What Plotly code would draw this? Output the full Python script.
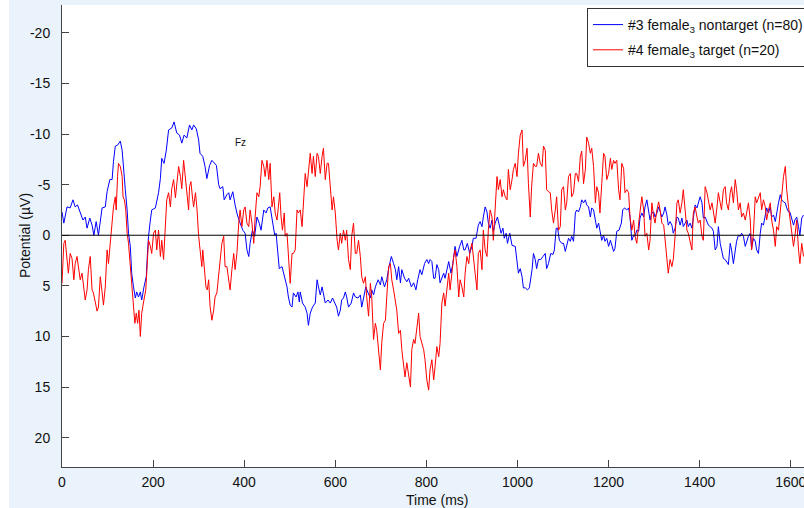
import plotly.graph_objects as go

# ---- data (time in ms, potential in µV) ----
blue_time = [0,4,11,18,24,29,34,40,46,51,55,61,66,70,75,80,84,88,95,99,105,110,113,117,122,128,132,135,139,143,146,150,153,157,161,164,168,172,175,180,185,188,190,194,197,205,212,216,219,224,229,234,241,246,252,258,263,268,274,280,285,289,295,300,303,309,314,318,324,329,334,339,344,347,353,356,362,366,369,375,380,385,391,397,402,406,410,
             413,418,423,428,433,437,443,448,452,457,461,467,470,474,477,483,489,494,497,501,505,508,514,518,521,523,528,534,538,541,545,550,556,560,563,567,571,574,578,584,589,594,598,603,607,611,614,618,622,625,629,635,640,644,650,655,658,662,667,672,677,680,684,688,694,699,702,708,713,718,723,728,732,735,739,743,746,752,757,761,767,772,777,781,786,790,796,801,805,
             808,812,816,819,823,827,830,834,838,841,845,849,854,858,863,867,873,878,882,885,890,895,900,903,909,914,918,922,925,929,933,936,940,944,947,951,956,961,964,968,971,975,978,983,988,995,999,1002,1006,1010,1013,1017,1022,1026,1032,1035,1039,1042,1046,1051,1056,1061,1064,1068,1073,1078,1081,1085,1088,1092,1097,1101,1105,1108,1112,1116,1119,1123,1127,1130,1134,1138,1141,1145,1149,1152,1156,1160,1163,1167,1171,1174,1178,1182,1185,1189,1192,1196,1200,1204,1207,1211,
             1214,1218,1223,1228,1231,1235,1240,1244,1247,1251,1255,1258,1262,1266,1269,1273,1277,1280,1284,1288,1291,1295,1299,1302,1306,1310,1313,1317,1321,1324,1328,1331,1335,1339,1342,1346,1350,1353,1357,1361,1364,1368,1372,1375,1379,1383,1386,1390,1394,1397,1401,1405,1408,1412,1416,1419,1423,1427,1430,1434,1438,1441,1445,1449,1452,1456,1459,1463,1467,1470,1474,1478,1481,1485,1489,1492,1496,1500,1503,1507,1511,1514,1518,1522,1525,1529,1533,1536,1540,1544,1547,1551,1555,1558,1562,1566,1569,1573,1577,1580,1584,1588,1591,1595,1598,1602,1606,1609,1613,1617,1620,1624,1628]
blue_uv = [-2.3,-1.2,-2.8,-2.7,-3.5,-2.8,-3.0,-2.2,-1.5,-1.8,-0.7,-1.7,-1.0,0,-1.35,0,-1.5,-2.7,-2.8,-4.3,-5.5,-5.5,-7.3,-8.8,-8.9,-9.3,-8.4,-6.5,-4.5,-2.5,-0.2,1.1,3.75,5.1,6.2,5.6,6.1,5.6,6.4,5.1,4.1,1.45,0.1,-1.5,-2.5,-2.7,-4.2,-5.6,-7.6,-7.1,-8.4,-10.4,-10.6,-11.2,-10.1,-9.9,-9.1,-9.9,-9.6,-10.9,-10.4,-10.9,-10.5,-9.4,-8.1,-7.8,-6.8,-5.6,-6.9,-7.4,-7.1,-6.9,-5.0,-4.6,-4.8,-3.5,-4.0,-4.2,-3.5,-4.3,-3.0,-2.0,-1.2,-0.5,-0.2,1.45,2.1,
           0.8,-0.5,0.1,-1.8,-1.2,-0.5,-2.5,-2.2,-2.7,-2.8,-1.5,0,-0.2,1.8,3.3,3.1,4.25,5.1,6.1,6.9,7.1,5.7,6.1,5.6,6.6,5.6,6.7,7.1,7.7,8.9,7.7,7.1,6.7,4.4,5.1,5.9,5.1,5.7,6.7,6.4,6.7,6.2,6.6,7.1,8.0,7.4,6.4,6.2,5.6,6.1,7.1,6.7,5.7,6.1,6.2,5.9,7.1,6.2,5.1,5.7,6.2,5.4,5.9,5.1,4.4,4.9,4.1,5.1,4.4,3.1,2.1,2.8,3.4,4.4,3.1,4.7,3.4,4.25,4.6,4.25,5.1,4.7,5.4,4.4,3.4,3.9,2.8,2.4,2.8,
           2.4,2.6,4.25,4.25,2.9,3.4,4.7,4.1,3.75,4.25,3.4,2.6,3.75,2.8,1.1,2.1,1.1,0.5,1.45,1.45,0.8,1.8,1.1,0.3,0.3,-1.0,-1.35,-0.85,-1.8,-2.8,-2.3,-1.2,-0.7,-1.5,-0.4,-1.2,-1.8,-0.7,-0.2,-0.7,0.3,-0.2,0.8,-0.2,1.0,1.1,2.4,3.75,3.3,4.1,5.2,5.2,5.4,5.2,3.4,1.8,2.4,3.3,2.4,2.4,2.1,1.8,3.3,2.8,1.8,1.9,1.45,-0.7,-0.7,0.5,0.8,0.8,1.6,1.1,0.3,0.6,0.1,0.6,-2.2,-2.5,-2.3,-2.8,-3.5,-3.2,-3.5,-3.0,-2.8,-1.8,-2.7,-2.5,-1.5,-0.7,-1.2,-0.2,0.5,0,0.6,0.3,1.1,0.5,1.0,1.6,
           1.3,-0.4,-0.5,-1.2,-2.5,-2.7,-2.5,-2.7,-1.8,0.5,0,0.1,-0.5,-0.4,-1.7,-2.2,-1.8,-2.8,-3.5,-2.5,-1.5,-2.2,-2.3,-1.8,-2.2,-2.8,-2.3,-1.8,-2.2,-2.8,-2.0,-1.0,-1.35,-1.0,-0.2,-0.7,-1.8,-1.7,-1.0,-1.7,-0.85,-1.2,-1.5,-0.85,-1.2,-0.7,-1.8,-3.0,-2.7,-3.2,-3.8,-3.2,-1.7,-1.8,-1.35,-1.0,-0.85,-0.7,-0.4,1.45,1.1,-0.85,0.8,1.6,2.3,2.4,2.6,2.9,0.8,1.45,2.8,1.45,0.6,0,0.1,-0.2,0.1,1.1,0.6,0.1,-0.2,1.3,0.3,0.6,1.45,1.8,-0.2,-1.2,-1.0,-1.8,-2.7,-2.2,-2.8,-1.8,-2.0,-1.35,-2.3,-3.2,-4.0,-3.5,-3.3,-3.2,-2.7,-2.3,-2.3,-1.5,-1.0,-1.5,-1.8,-0.85,0,-1.7,-2.0]

red_time = [0,4,7,11,14,18,22,26,29,33,36,40,44,47,51,55,58,62,66,69,73,77,80,84,88,91,95,99,102,106,110,113,117,119,122,124,128,132,134,137,140,143,146,150,153,157,160,163,166,169,172,175,178,181,184,187,190,194,197,201,205,208,212,216,219,223,227,230,234,238,241,245,249,252,256,260,263,267,271,274,278,280,283,287,289,293,296,300,304,307,309,312,316,319,322,325,329,333,336,340,344,347,351,355,358,362,366,369,373,377,380,384,388,391,395,399,
            402,406,410,413,417,421,424,428,432,435,439,443,446,450,454,457,461,465,468,472,475,478,481,484,488,490,494,497,501,505,508,512,516,519,523,527,530,534,538,541,545,549,552,556,560,563,567,571,574,578,582,585,589,593,596,600,604,607,611,614,618,622,625,629,633,636,640,644,647,651,655,658,662,666,669,673,677,680,684,688,691,695,699,702,706,710,713,717,721,724,728,732,735,739,743,746,750,753,757,761,765,768,772,775,779,783,786,790,794,797,801,805,
            808,812,816,819,823,827,830,834,838,841,845,849,852,856,860,863,867,871,874,878,882,885,889,893,896,900,903,907,911,914,918,922,925,929,933,936,940,944,947,951,955,958,962,966,969,973,977,980,984,988,991,995,999,1002,1006,1010,1013,1017,1021,1024,1028,1031,1035,1039,1042,1046,1050,1054,1057,1061,1064,1068,1072,1075,1079,1083,1086,1090,1094,1097,1101,1105,1108,1112,1116,1119,1123,1127,1130,1134,1138,1141,1145,1149,1152,1156,1160,1163,1167,1171,1174,1178,1181,1185,1189,1192,1196,1200,1204,1207,1211,
            1214,1218,1222,1225,1229,1233,1236,1240,1244,1247,1251,1255,1258,1262,1266,1269,1273,1277,1280,1284,1288,1291,1295,1299,1302,1306,1310,1313,1317,1321,1324,1328,1331,1335,1339,1342,1346,1350,1353,1357,1361,1364,1368,1372,1375,1379,1383,1386,1390,1394,1397,1401,1405,1408,1412,1416,1419,1423,1427,1430,1434,1438,1441,1445,1448,1452,1456,1459,1463,1467,1470,1474,1478,1481,1485,1489,1492,1496,1500,1503,1507,1511,1514,1518,1522,1525,1529,1533,1536,1540,1544,1547,1551,1555,1558,1562,1566,1569,1573,1577,1580,1584,1588,1591,1595,1598,1602,1606,1609,1613,1617,1620,1624,1628]
red_uv = [4.75,0.8,0.5,2.8,3.75,1.8,2.3,4.4,2.8,2.1,3.3,4.4,3.75,4.9,6.4,5.4,3.4,2.1,5.4,5.7,6.7,7.5,7.1,4.1,5.6,6.9,5.1,1.45,2.8,0.8,-1.8,-2.8,-3.8,-2.5,-5.8,-7.1,-6.8,-5.8,-3.8,-3.5,-2.5,-0.2,0.8,3.1,5.1,7.0,8.7,7.7,8.7,7.4,10.0,7.7,6.7,6.1,5.4,2.4,0.5,1.1,1.8,-0.2,-0.5,1.45,-0.5,2.1,0.5,2.4,-0.7,-3.5,-4.2,-2.8,-4.6,-5.5,-3.7,-5.1,-6.8,-5.8,-4.6,-7.4,-5.8,-4.2,-2.5,-4.8,-5.3,-3.5,-2.8,-4.2,-2.8,0.1,2.1,3.1,1.45,3.1,5.1,5.4,4.4,7.0,8.4,7.4,6.1,5.7,4.1,2.8,0.8,0.1,3.1,3.1,4.75,5.4,3.4,1.8,3.4,1.8,-1.2,-2.5,-0.85,-2.5,
          -2.8,-1.2,-0.85,-2.5,-1.2,0.8,-1.8,-4.2,-3.8,-4.8,-7.4,-6.8,-5.8,-7.4,-5.5,-7.1,-2.8,-3.8,-2.2,-1.5,-2.8,-4.2,-1.8,-0.5,-2.2,0.1,-0.2,1.8,4.75,1.8,1.8,1.45,-2.5,-2.2,-2.5,-0.85,-3.5,-6.1,-4.8,-6.1,-8.1,-6.1,-7.8,-5.8,-8.1,-7.8,-6.1,-7.8,-8.6,-5.5,-7.1,-7.1,-4.5,-2.5,-3.8,-2.2,0.5,1.45,-0.2,0.8,-0.5,0.5,-0.5,2.4,3.4,0.1,-1.2,1.8,1.8,0.5,2.1,4.1,4.75,4.1,6.1,8.0,4.75,6.1,10.3,8.7,9.4,11.3,13.3,10.6,8.7,8.4,6.4,3.1,2.8,4.4,5.4,6.4,7.4,9.7,9.4,11.3,13.3,14.0,12.6,14.0,15.0,11.3,10.3,10.7,9.0,7.7,10.0,10.7,11.3,12.3,14.3,15.3,
          13.3,12.3,14.3,13.0,11.0,12.0,10.7,6.7,5.7,7.0,5.6,3.75,5.4,3.4,2.1,1.45,3.1,6.1,4.4,5.1,6.1,3.75,2.1,2.8,1.45,0.8,2.4,3.75,5.4,1.8,1.45,3.4,-0.5,1.45,2.1,-0.5,-2.5,-1.8,0.5,-2.8,-5.8,-4.5,-5.5,-3.8,-4.5,-3.8,-3.5,-6.5,-4.5,-5.5,-6.5,-7.1,-5.8,-8.1,-9.9,-10.4,-6.8,-7.4,-8.6,-5.1,-1.8,-4.8,-7.1,-6.8,-6.8,-8.1,-7.1,-6.8,-8.8,-8.4,-4.5,-4.3,-4.2,-2.5,-1.2,-2.5,-3.8,-0.5,-0.85,-4.5,-4.8,-2.5,-3.2,-5.8,-6.1,-3.8,-4.2,-6.1,-6.1,-5.3,-7.8,-8.3,-5.1,-6.5,-9.7,-9.1,-8.1,-8.6,-6.8,-3.2,-4.8,-4.2,-2.2,-5.1,-8.1,-7.8,-5.5,-6.1,-7.6,-6.5,-7.4,
          -7.1,-7.4,-4.5,-3.5,-7.1,-6.6,-4.2,-4.5,-4.2,-1.8,-0.5,-1.5,0.1,0.8,-1.2,-2.2,-3.8,-2.5,0.1,-0.2,1.45,0.5,-3.2,-1.8,-1.2,-2.5,-3.3,-2.5,-1.2,-1.0,0.5,2.8,3.75,2.4,3.1,2.4,0.1,-3.2,-3.5,-2.2,-3.2,-4.5,-2.5,-0.5,-0.2,0.8,1.45,-2.2,-2.8,-1.8,-1.2,-1.5,0.1,0.5,-4.8,-4.2,-3.5,-2.5,-3.2,-2.5,-1.2,-2.8,-4.2,-3.2,-2.5,-4.5,-4.8,-3.2,-2.5,-4.2,-4.8,-3.2,-5.5,-4.5,-2.5,-3.2,-1.8,-2.2,-1.5,-2.2,-3.2,-1.5,1.45,-0.2,-3.8,-3.2,-3.8,-4.2,-2.5,-3.5,-2.8,-1.5,-2.5,-3.2,-1.5,-0.5,1.1,-0.85,-0.5,-2.5,-3.8,-5.8,-6.8,-4.5,-2.8,-1.8,-0.5,1.1,0.1,-1.5,1.45,2.8,0.8,2.1]

series_names = ["#3 female<sub>3</sub> nontarget (n=80)", "#4 female<sub>3</sub> target (n=20)"]
series_colors = ["#0000FF", "#FF0000"]
x_ticks = [0, 200, 400, 600, 800, 1000, 1200, 1400, 1600]
y_ticks = [-20, -15, -10, -5, 0, 5, 10, 15, 20]
y_tick_text = ["-20", "-15", "-10", "-5", "0", "5", "10", "15", "20"]
channel_label = "Fz"

W, H = 804, 508
ML, MR, MT, MB = 62, 0, 5, 41
PW, PH = W - ML - MR, H - MT - MB
FONT = "Liberation Sans, Arial, sans-serif"
BG = "#EAF2FB"
TXT = "#111111"

fig = go.Figure()
for i, (t, v, name, col) in enumerate([(blue_time, blue_uv, series_names[0], series_colors[0]),
                                       (red_time, red_uv, series_names[1], series_colors[1])]):
    fig.add_trace(go.Scatter(x=t, y=v, mode="lines", name=name, legendgroup=f"g{i}",
                             line=dict(color=col, width=1)))

axis_common = dict(showline=True, linecolor="#444444", linewidth=1, ticks="inside",
                   ticklen=7, tickcolor="#444444", tickwidth=1, showgrid=False,
                   zeroline=False, mirror=False, ticklabeloverflow="allow",
                   tickfont=dict(family=FONT, size=14, color=TXT))
fig.update_xaxes(range=[0, 1629], tickvals=x_ticks, ticklabelstandoff=2, **axis_common)
fig.update_yaxes(range=[22.9, -22.75], tickvals=y_ticks, ticktext=y_tick_text,
                 ticklabelstandoff=8, **axis_common)

fig.add_shape(type="line", xref="paper", x0=0, x1=1, yref="y", y0=0, y1=0,
              line=dict(color="black", width=1), layer="above")
# white strip at the far left of the window
fig.add_shape(type="rect", xref="paper", x0=-ML / PW, x1=(9 - ML) / PW,
              yref="paper", y0=-MB / PH - 0.01, y1=1 + MT / PH + 0.01,
              fillcolor="white", line=dict(width=0), layer="below")

fig.add_annotation(x=391, y=-9.2, xref="x", yref="y", text=channel_label,
                   showarrow=False, font=dict(family=FONT, size=10, color=TXT))
fig.add_annotation(x=(437 - ML) / PW, y=-(500 - (MT + PH)) / PH, xref="paper", yref="paper",
                   text="Time (ms)", showarrow=False, xanchor="center", yanchor="middle",
                   font=dict(family=FONT, size=14, color=TXT))
fig.add_annotation(x=(25 - ML) / PW, y=0.5, xref="paper", yref="paper",
                   text="Potential (µV)", textangle=-90, showarrow=False,
                   xanchor="center", yanchor="middle",
                   font=dict(family=FONT, size=14, color=TXT))

fig.update_layout(
    width=W, height=H,
    margin=dict(l=ML, r=MR, t=MT, b=MB, pad=0, autoexpand=False),
    paper_bgcolor=BG, plot_bgcolor="white",
    showlegend=True,
    legend=dict(x=(587 - ML) / PW, y=1 - (8 - MT) / PH, xanchor="left", yanchor="top",
                bgcolor="white", bordercolor="#333333", borderwidth=1,
                font=dict(family=FONT, size=14, color=TXT),
                itemwidth=30, tracegroupgap=4),
    font=dict(family=FONT, size=14, color=TXT),
)

fig.write_html("out.html", config={"displayModeBar": False},
               post_script="document.body.style.margin='0px';")
